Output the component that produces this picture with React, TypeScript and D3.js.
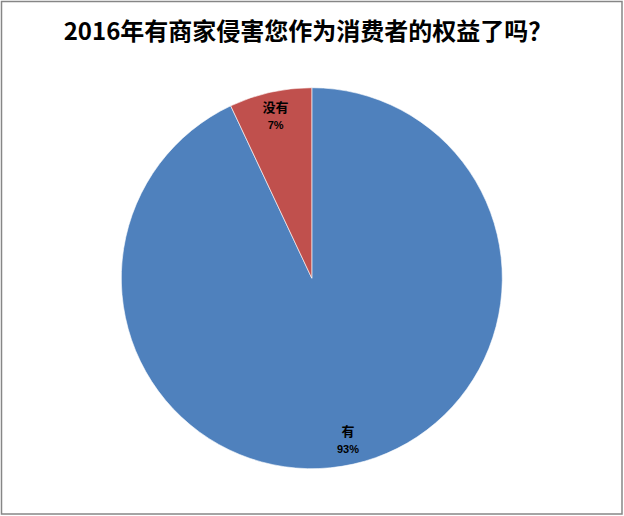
import React from "react";
import * as d3 from "d3";

const title = "2016年有商家侵害您作为消费者的权益了吗？";
const categories = ["有", "没有"];
const values = [93, 7];
const colors = ["#4F81BD", "#C0504D"];

export default function App() {
  const W = 624, H = 516;
  const cx = 311.8, cy = 278.2, r = 190.5;
  const data = categories.map((c, i) => ({ c, v: values[i], color: colors[i] }));
  const pie = d3.pie<any>().value((d) => d.v).sort(null);
  const arcs = pie(data);
  const arc = d3.arc<any>().innerRadius(0).outerRadius(r);
  const labelArc = d3.arc<any>().innerRadius(166).outerRadius(166);
  const total = d3.sum(values);
  return (
    <svg width={W} height={H} style={{ position: "absolute", left: 0, top: 0 }}>
      <rect x={0} y={0} width={W} height={H} fill="#fff" />
      <rect x={1.5} y={1.5} width={620.5} height={512.5} fill="none" stroke="#868686" strokeWidth={1.5} />
      <text x={308} y={40} textAnchor="middle" fontFamily="'Noto Sans CJK SC', sans-serif" fontWeight="bold" fontSize={24} fill="#000">
        {title}
      </text>
      <g transform={`translate(${cx},${cy})`}>
        {arcs.map((a, i) => (
          <path key={i} d={arc(a) as string} fill={a.data.color} stroke="#fff" strokeWidth={0.6} />
        ))}
        {arcs.map((a, i) => {
          const [lx, ly] = labelArc.centroid(a);
          return (
            <g key={"l" + i} fontFamily="'Noto Sans CJK SC', sans-serif" fontWeight="bold" fill="#000" textAnchor="middle">
              <text x={lx} y={ly - 4} fontSize={13}>{a.data.c}</text>
              <text x={lx} y={ly + 13} fontSize={11} fontFamily="'Liberation Sans', sans-serif">{Math.round((a.data.v / total) * 100) + "%"}</text>
            </g>
          );
        })}
      </g>
    </svg>
  );
}
